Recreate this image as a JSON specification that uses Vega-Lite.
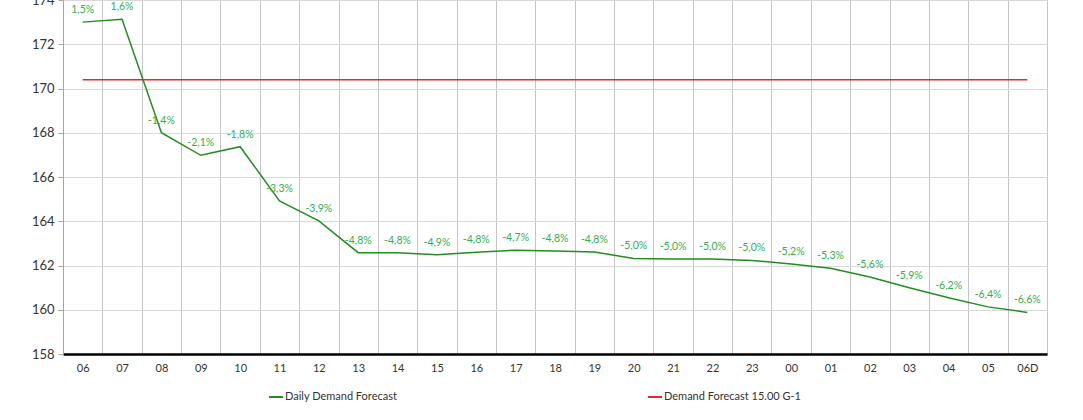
{
  "$schema": "https://vega.github.io/schema/vega-lite/v6.json",
  "width": 984,
  "height": 354,
  "autosize": {"type": "none"},
  "padding": {"left": 63, "top": 0, "right": 36, "bottom": 66},
  "background": "white",
  "config": {"font": "Lato", "view": {"stroke": "#a6a6a6"}},
  "data": {
    "values": [
      {"hour": "06", "demand": 173.0, "ref": 170.4, "pct": "1,5%"},
      {"hour": "07", "demand": 173.13, "ref": 170.4, "pct": "1,6%"},
      {"hour": "08", "demand": 168.0, "ref": 170.4, "pct": "-1,4%"},
      {"hour": "09", "demand": 166.98, "ref": 170.4, "pct": "-2,1%"},
      {"hour": "10", "demand": 167.37, "ref": 170.4, "pct": "-1,8%"},
      {"hour": "11", "demand": 164.92, "ref": 170.4, "pct": "-3,3%"},
      {"hour": "12", "demand": 164.02, "ref": 170.4, "pct": "-3,9%"},
      {"hour": "13", "demand": 162.58, "ref": 170.4, "pct": "-4,8%"},
      {"hour": "14", "demand": 162.58, "ref": 170.4, "pct": "-4,8%"},
      {"hour": "15", "demand": 162.49, "ref": 170.4, "pct": "-4,9%"},
      {"hour": "16", "demand": 162.6, "ref": 170.4, "pct": "-4,8%"},
      {"hour": "17", "demand": 162.69, "ref": 170.4, "pct": "-4,7%"},
      {"hour": "18", "demand": 162.66, "ref": 170.4, "pct": "-4,8%"},
      {"hour": "19", "demand": 162.61, "ref": 170.4, "pct": "-4,8%"},
      {"hour": "20", "demand": 162.32, "ref": 170.4, "pct": "-5,0%"},
      {"hour": "21", "demand": 162.29, "ref": 170.4, "pct": "-5,0%"},
      {"hour": "22", "demand": 162.29, "ref": 170.4, "pct": "-5,0%"},
      {"hour": "23", "demand": 162.23, "ref": 170.4, "pct": "-5,0%"},
      {"hour": "00", "demand": 162.07, "ref": 170.4, "pct": "-5,2%"},
      {"hour": "01", "demand": 161.88, "ref": 170.4, "pct": "-5,3%"},
      {"hour": "02", "demand": 161.48, "ref": 170.4, "pct": "-5,6%"},
      {"hour": "03", "demand": 160.99, "ref": 170.4, "pct": "-5,9%"},
      {"hour": "04", "demand": 160.54, "ref": 170.4, "pct": "-6,2%"},
      {"hour": "05", "demand": 160.13, "ref": 170.4, "pct": "-6,4%"},
      {"hour": "06D", "demand": 159.88, "ref": 170.4, "pct": "-6,6%"}
    ]
  },
  "encoding": {
    "x": {
      "field": "hour",
      "type": "ordinal",
      "sort": null,
      "scale": {"type": "band", "paddingInner": 0, "paddingOuter": 0},
      "axis": {
        "title": null,
        "labelAngle": 0,
        "tickBand": "extent",
        "ticks": false,
        "grid": true,
        "gridColor": "#c4c4c4",
        "gridWidth": 1,
        "domainColor": "#000000",
        "domainWidth": 2.5,
        "labelFontSize": 11,
        "labelColor": "#333333",
        "labelPadding": 8
      }
    }
  },
  "layer": [
    {
      "mark": {"type": "line", "strokeWidth": 1.5},
      "encoding": {
        "y": {
          "field": "ref",
          "type": "quantitative",
          "scale": {"domain": [158, 174], "nice": false, "zero": false},
          "axis": {
            "title": null,
            "values": [158, 160, 162, 164, 166, 168, 170, 172, 174],
            "grid": true,
            "gridColor": "#d9d9d9",
            "domainColor": "#a6a6a6",
            "tickColor": "#a6a6a6",
            "tickSize": 5,
            "labelFontSize": 13,
            "labelColor": "#333333",
            "labelPadding": 4
          }
        },
        "color": {
          "datum": "Demand Forecast 15.00 G-1",
          "type": "nominal",
          "scale": {
            "domain": ["Daily Demand Forecast", "Demand Forecast 15.00 G-1"],
            "range": ["#1f8f1f", "#e8282b"]
          },
          "legend": {
            "title": null,
            "orient": "none",
            "legendX": 205,
            "legendY": 389,
            "direction": "horizontal",
            "symbolType": "stroke",
            "symbolSize": 196,
            "symbolStrokeWidth": 2,
            "labelFontSize": 11,
            "labelColor": "#333333",
            "labelOffset": 1,
            "columnPadding": 246
          }
        }
      }
    },
    {
      "mark": {"type": "line", "strokeWidth": 1.5},
      "encoding": {
        "y": {"field": "demand", "type": "quantitative"},
        "color": {"datum": "Daily Demand Forecast", "type": "nominal"}
      }
    },
    {
      "mark": {"type": "text", "dy": -12, "fontSize": 10.5, "color": "#2eb04e"},
      "encoding": {
        "y": {"field": "demand", "type": "quantitative"},
        "text": {"field": "pct"}
      }
    }
  ]
}
